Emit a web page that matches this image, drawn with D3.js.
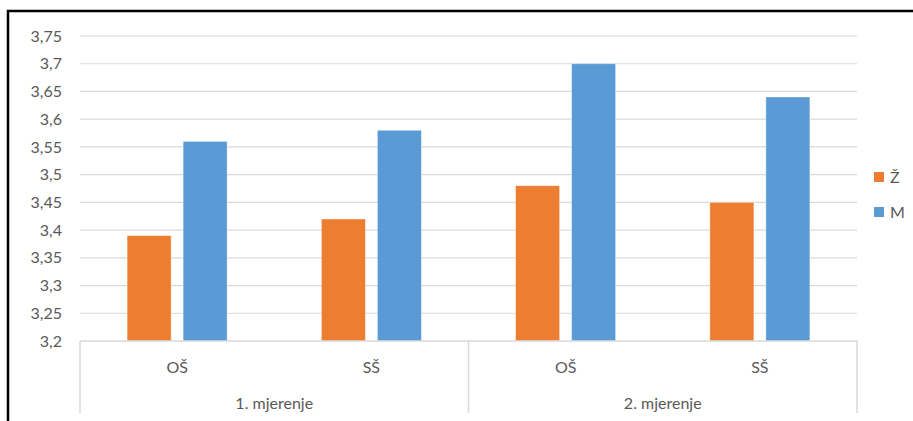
<!DOCTYPE html>
<html>
<head>
<meta charset="utf-8">
<script src="https://cdn.jsdelivr.net/npm/d3@7"></script>
<style>
  body { margin: 0; background: #fff; }
  text { font-family: Lato, "Open Sans", sans-serif; fill: #595959; font-size: 16px; }
</style>
</head>
<body>
<svg id="chart"></svg>
<script>
// data
var groups = ['1. mjerenje', '2. mjerenje'];
var schools = ['OŠ', 'SŠ'];
var series = ['Ž', 'M'];
var valuesZ = [3.39, 3.42, 3.48, 3.45];
var valuesM = [3.56, 3.58, 3.70, 3.64];
var yTicks = [3.2, 3.25, 3.3, 3.35, 3.4, 3.45, 3.5, 3.55, 3.6, 3.65, 3.7, 3.75];
var colors = ['#ed7d31', '#5b9bd5'];

const width = 913;
const height = 421;

var svg = d3.select('#chart')
	.attr('width', width)
	.attr('height', height);

// outer frame
svg.append('rect')
	.attr('x', 8).attr('y', 11)
	.attr('width', width + 10).attr('height', height + 10)
	.attr('fill', 'none').attr('stroke', '#000').attr('stroke-width', 2.5);

// build rows: one per group/school
var rows = [];
groups.forEach(function(g, gi){
	schools.forEach(function(s, si){
		var i = gi * schools.length + si;
		rows.push({ key: i, group: g, school: s, values: [valuesZ[i], valuesM[i]] });
	});
});

var plotLeft = 80, plotRight = 857, plotTop = 36, plotBottom = 341;

var y = d3.scaleLinear().domain([3.2, 3.75]).range([plotBottom, plotTop]);
var x = d3.scaleBand().domain(rows.map(function(d){ return d.key })).range([plotLeft, plotRight]);

// gridlines
svg.append('g').selectAll('line').data(yTicks.slice(1)).enter().append('line')
	.attr('x1', plotLeft).attr('x2', plotRight)
	.attr('y1', function(d){ return y(d) }).attr('y2', function(d){ return y(d) })
	.attr('stroke', '#d9d9d9').attr('stroke-width', 1.2);

// y labels
svg.append('g').selectAll('text').data(yTicks).enter().append('text')
	.attr('x', 62).attr('y', function(d){ return y(d) })
	.attr('dy', '0.35em').attr('text-anchor', 'end')
	.text(function(d){ return d3.format('')(d).replace('.', ',') });

// bars
var barW = 44, gap = 12;
var bars = svg.append('g').selectAll('g').data(rows).enter().append('g')
	.attr('transform', function(d){
		var c = x(d.key) + x.bandwidth() / 2;
		return 'translate(' + (c - barW - gap / 2) + ',0)';
	});
bars.selectAll('rect').data(function(d){ return d.values }).enter().append('rect')
	.attr('x', function(d, i){ return i * (barW + gap) })
	.attr('y', function(d){ return y(d) })
	.attr('width', barW)
	.attr('height', function(d){ return y(3.2) - y(d) })
	.attr('fill', function(d, i){ return colors[i] })
	.attr('stroke', '#ffffff').attr('stroke-opacity', 0.5).attr('stroke-width', 0.75);

// category axis
var axis = svg.append('g').attr('stroke', '#d9d9d9').attr('stroke-width', 1.5);
axis.append('line').attr('x1', plotLeft).attr('x2', plotRight).attr('y1', plotBottom).attr('y2', plotBottom);
var gw = (plotRight - plotLeft) / groups.length;
d3.range(groups.length + 1).forEach(function(i){
	axis.append('line')
		.attr('x1', plotLeft + i * gw).attr('x2', plotLeft + i * gw)
		.attr('y1', plotBottom).attr('y2', 413);
});

svg.append('g').selectAll('text').data(rows).enter().append('text')
	.attr('x', function(d){ return x(d.key) + x.bandwidth() / 2 })
	.attr('y', 373).attr('text-anchor', 'middle')
	.text(function(d){ return d.school });

svg.append('g').selectAll('text').data(groups).enter().append('text')
	.attr('x', function(d, i){ return plotLeft + (i + 0.5) * gw })
	.attr('y', 409).attr('text-anchor', 'middle')
	.text(function(d){ return d });

// legend
var legend = svg.append('g').selectAll('g').data(series).enter().append('g')
	.attr('transform', function(d, i){ return 'translate(874,' + (172 + i * 35) + ')' });
legend.append('rect').attr('width', 10).attr('height', 10)
	.attr('fill', function(d, i){ return colors[i] });
legend.append('text').attr('x', 16).attr('y', 5).attr('dy', '0.38em')
	.text(function(d){ return d });
</script>
</body>
</html>
